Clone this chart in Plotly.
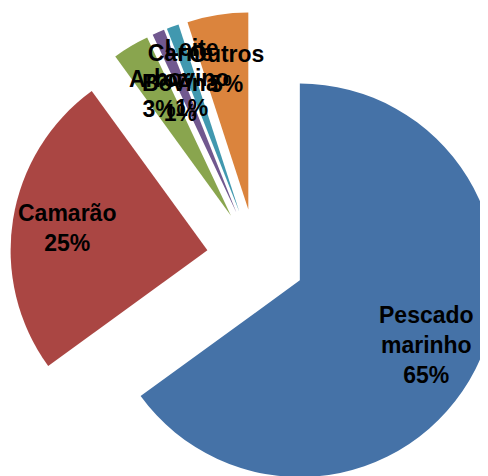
import math
import plotly.graph_objects as go

# Data
categories = ["Pescado marinho", "Camarão", "Arroz", "Carne Bovina", "Leite bovino", "Outros"]
values = [65, 25, 3, 1, 1, 5]
label_text = ["Pescado<br>marinho<br>65%", "Camarão<br>25%", "Arroz<br>3%",
              "Carne<br>Bovina<br>1%", "Leite<br>bovino<br>1%", "Outros<br>5%"]
colors = ["#4572A7", "#AA4643", "#89A54E", "#71588F", "#4198AF", "#DB843D"]

PULL = 0.25
W, H = 496, 500
MT, MB = 4, 4

fig = go.Figure(go.Pie(
    labels=categories,
    values=values,
    sort=False,
    direction="clockwise",
    rotation=0,
    pull=[PULL] * len(values),
    marker=dict(colors=colors, line=dict(width=0)),
    textinfo="none",
    hoverinfo="label+percent",
    showlegend=False,
))

# Label positions derived from slice mid-angles (like Excel's inside-end labels)
plot_w, plot_h = W, H - MT - MB
r_px = min(plot_w, plot_h) / (2 * (1 + PULL))
total = sum(values)
cum = 0
annotations = []
for v, txt in zip(values, label_text):
    mid = 2 * math.pi * (cum + v / 2) / total
    cum += v
    k = (PULL + 0.72) * r_px
    ax = 0.5 + k * math.sin(mid) / plot_w
    ay = 0.5 + k * math.cos(mid) / plot_h
    annotations.append(dict(
        x=ax, y=ay, xref="paper", yref="paper", text=txt, showarrow=False,
        font=dict(family="Liberation Sans", size=23, color="black", weight="bold"),
        align="center", xanchor="center", yanchor="middle",
    ))

fig.update_layout(
    width=W, height=H,
    margin=dict(l=0, r=0, t=MT, b=MB),
    paper_bgcolor="white",
    plot_bgcolor="white",
    annotations=annotations,
)

fig.write_html("out.html")
